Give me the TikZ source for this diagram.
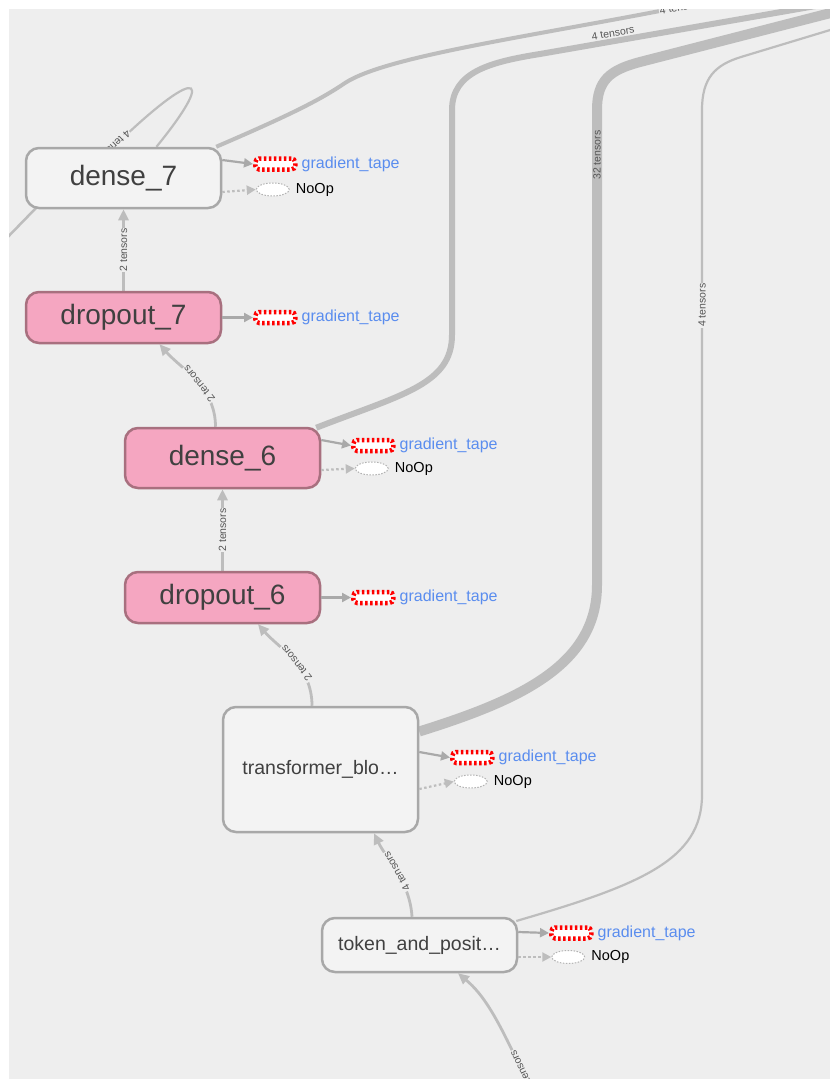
\documentclass[tikz,border=0pt]{standalone}
\usepackage{fontspec}
\setmainfont{Liberation Sans}
\usetikzlibrary{arrows.meta,positioning,backgrounds,shapes.geometric}

\definecolor{bggray}{HTML}{EEEEEE}
\definecolor{nodefill}{HTML}{F3F3F3}
\definecolor{nodegray}{HTML}{A8A8A8}
\definecolor{pinkfill}{HTML}{F5A6C1}
\definecolor{pinkdraw}{HTML}{A8707F}
\definecolor{nodetext}{HTML}{404040}
\definecolor{edgegray}{HTML}{BDBDBD}
\definecolor{linkgray}{HTML}{A9A9A9}
\definecolor{tapeblue}{HTML}{5A8DEE}
\definecolor{tenstext}{HTML}{555555}

\begin{document}
\begin{tikzpicture}[x=1pt,y=-1pt,
        layer/.style={draw=nodegray,fill=nodefill,line width=2.5pt,rounded corners=13pt,
            minimum width=195pt,text=nodetext,font=\fontsize{28}{30}\selectfont},
        hot/.style={layer,draw=pinkdraw,fill=pinkfill},
        small/.style={font=\fontsize{19.5}{21}\selectfont},
        tape/.style={draw=red,fill=white,line width=4.5pt,dash pattern=on 2.5pt off 2.5pt,
            rounded corners=4pt,minimum width=40pt,minimum height=11pt,inner sep=0pt},
        noop/.style={ellipse,draw=gray!60,fill=white,line width=1pt,dash pattern=on 1.5pt off 1.5pt,
            minimum width=33pt,minimum height=13pt,inner sep=0pt},
        tapelabel/.style={text=tapeblue,font=\fontsize{16}{18}\selectfont,inner sep=0pt},
        nooplabel/.style={text=black,font=\fontsize{14.5}{16}\selectfont,inner sep=0pt},
        flow/.style={draw=edgegray,line width=2.8pt,-{Triangle[length=11pt,width=10pt]}},
        wire/.style={draw=edgegray,line width=2.5pt},
        tolink/.style={draw=linkgray,line width=2.2pt,-{Triangle[length=9pt,width=9pt]}},
        ctrl/.style={draw=edgegray,line width=2.2pt,dash pattern=on 2.5pt off 2.5pt,
            -{Triangle[length=9pt,width=9pt]}},
        tens/.style={sloped,allow upside down,fill=bggray,inner sep=0.8pt,text=tenstext,
            font=\fontsize{10.5}{11}\selectfont}
    ]
        \useasboundingbox (0,0) rectangle (830,1079);

        % Define the layers
        \node[layer] (dense7) at (123.5,178) [minimum height=60pt] {dense\_7};
        \node[hot] (dropout7) at (123.5,317.5) [minimum height=51pt] {dropout\_7};
        \node[hot] (dense6) at (222.5,458) [minimum height=60pt] {dense\_6};
        \node[hot] (dropout6) at (222.5,597.5) [minimum height=51pt] {dropout\_6};
        \node[layer,small] (transformer) at (320.5,769.5) [minimum height=125pt] {transformer\_blo…};
        \node[layer,small] (tokenpos) at (419.5,945) [minimum height=54pt] {token\_and\_posit…};

        % Gradient tapes and NoOps
        \node[tape] (tape7) at ([shift={(53,-14)}]dense7.east) {};
        \node[tapelabel,right=4pt of tape7] (tapetext7) {gradient\_tape};
        \node[noop] (noop7) at ([shift={(50.5,11.5)}]dense7.east) {};
        \node[nooplabel,right=6pt of noop7] (nooptext7) {NoOp};
        \node[tape] (tapeD7) at ([shift={(53,0)}]dropout7.east) {};
        \node[tapelabel,right=4pt of tapeD7] (tapetextD7) {gradient\_tape};
        \node[tape] (tape6) at ([shift={(52,-12.5)}]dense6.east) {};
        \node[tapelabel,right=4pt of tape6] (tapetext6) {gradient\_tape};
        \node[noop] (noop6) at ([shift={(50.5,10.5)}]dense6.east) {};
        \node[nooplabel,right=6pt of noop6] (nooptext6) {NoOp};
        \node[tape] (tapeD6) at ([shift={(52,0)}]dropout6.east) {};
        \node[tapelabel,right=4pt of tapeD6] (tapetextD6) {gradient\_tape};
        \node[tape] (tapeT) at ([shift={(53,-12)}]transformer.east) {};
        \node[tapelabel,right=4pt of tapeT] (tapetextT) {gradient\_tape};
        \node[noop] (noopT) at ([shift={(51.5,12)}]transformer.east) {};
        \node[nooplabel,right=6pt of noopT] (nooptextT) {NoOp};
        \node[tape] (tapeE) at ([shift={(53,-12)}]tokenpos.east) {};
        \node[tapelabel,right=4pt of tapeE] (tapetextE) {gradient\_tape};
        \node[noop] (noopE) at ([shift={(50,12)}]tokenpos.east) {};
        \node[nooplabel,right=6pt of noopE] (nooptextE) {NoOp};

        % Links to the ops
        \draw[tolink] ([shift={(0,-18)}]dense7.east) -- (tape7.west);
        \draw[ctrl] ([shift={(0,14)}]dense7.east) -- (noop7.west);
        \draw[tolink] (dropout7.east) -- (tapeD7.west);
        \draw[tolink] ([shift={(0,-18)}]dense6.east) -- (tape6.west);
        \draw[ctrl] ([shift={(0,12)}]dense6.east) -- (noop6.west);
        \draw[tolink] (dropout6.east) -- (tapeD6.west);
        \draw[tolink] ([shift={(0,-17.5)}]transformer.east) -- (tapeT.west);
        \draw[ctrl] ([shift={(0,19.5)}]transformer.east) -- (noopT.west);
        \draw[tolink] ([shift={(0,-13)}]tokenpos.east) -- (tapeE.west);
        \draw[ctrl] ([shift={(0,12)}]tokenpos.east) -- (noopE.west);

        \begin{scope}[on background layer]
            \fill[white] (0,0) rectangle (830,1079);
            \fill[bggray] (9,9) rectangle (830,1079);
            \begin{scope}
                \clip (9,9) rectangle (830,1079);
                \coordinate (westexit) at (0,245);
                \coordinate (topexitA) at (745,-5);
                \coordinate (topexitB) at (850,0);
                \coordinate (topexitC) at (850,8);
                \coordinate (topexitD) at (850,24);
                \coordinate (bottomexit) at (538,1105);

                % Data flow between the layers
                \draw[flow] (dropout7.north) -- node[tens] (t1) {2 tensors} (dense7.south);
                \draw[flow] ([shift={(-7,0)}]dense6.north) .. controls +(0,-40) and +(22,25) ..
                    ([shift={(36,0)}]dropout7.south) node[tens,pos=0.45] (t2) {2 tensors};
                \draw[flow] (dropout6.north) -- node[tens] (t3) {2 tensors} (dense6.south);
                \draw[flow] ([shift={(-8.5,0)}]transformer.north) .. controls +(0,-40) and +(22,25) ..
                    ([shift={(35.5,0)}]dropout6.south) node[tens,pos=0.45] (t4) {2 tensors};
                \draw[flow] ([shift={(-7.5,0)}]tokenpos.north) .. controls +(-2,-35) and +(12,25) ..
                    ([shift={(53.5,0)}]transformer.south) node[tens,pos=0.5] (t5) {4 tensors};
                \draw[flow] (bottomexit) .. controls (505,1035) and (490,1000) ..
                    ([shift={(38.5,0)}]tokenpos.south) node[tens,pos=0.18] (t6) {4 tensors};

                % Edges leaving the picture
                \draw[wire,line width=2.2pt] ([shift={(33,0)}]dense7.north) .. controls +(65,-80) and +(95,-95) ..
                    ([shift={(-24,14)}]dense7.north) node[tens,pos=0.95] (t7) {4 tensors};
                \draw[wire] ([shift={(12,-2)}]dense7.south west) -- (westexit);
                \draw[wire,line width=4pt] ([shift={(-6,0)}]dense7.north east) .. controls (290,115) and (320,100) ..
                    (345,83) .. controls (385,57) and (520,38) .. (665,10) -- (topexitA)
                    node[tens,pos=0.2] (t8) {4 tensors};
                \draw[wire,line width=6pt] ([shift={(-5,1)}]dense6.north east) .. controls (400,395) and (452,385) ..
                    (452,335) -- (452,110) .. controls (452,72) and (490,62) .. (540,54) -- (topexitB)
                    node[pos=0.24,sloped,above,inner sep=1.5pt,text=tenstext,font=\fontsize{10.5}{11}\selectfont] (t9) {4 tensors};
                \draw[wire,line width=10pt] ([shift={(0,-38)}]transformer.east) .. controls (520,700) and (597,665) ..
                    (597,585) -- (597,110) node[pos=0.905,sloped,inner sep=0pt,text=tenstext,font=\fontsize{10.5}{11}\selectfont] (t10) {32 tensors}
                    .. controls (597,80) and (610,70) .. (640,62) -- (topexitC);
                \draw[wire,line width=2.2pt] ([shift={(-2,-24)}]tokenpos.east) .. controls (640,885) and (702,860) ..
                    (702,795) -- (702,110) node[tens,pos=0.715] (t11) {4 tensors}
                    .. controls (702,78) and (715,65) .. (741,57) -- (topexitD);
            \end{scope}
        \end{scope}
    \end{tikzpicture}
\end{document}
